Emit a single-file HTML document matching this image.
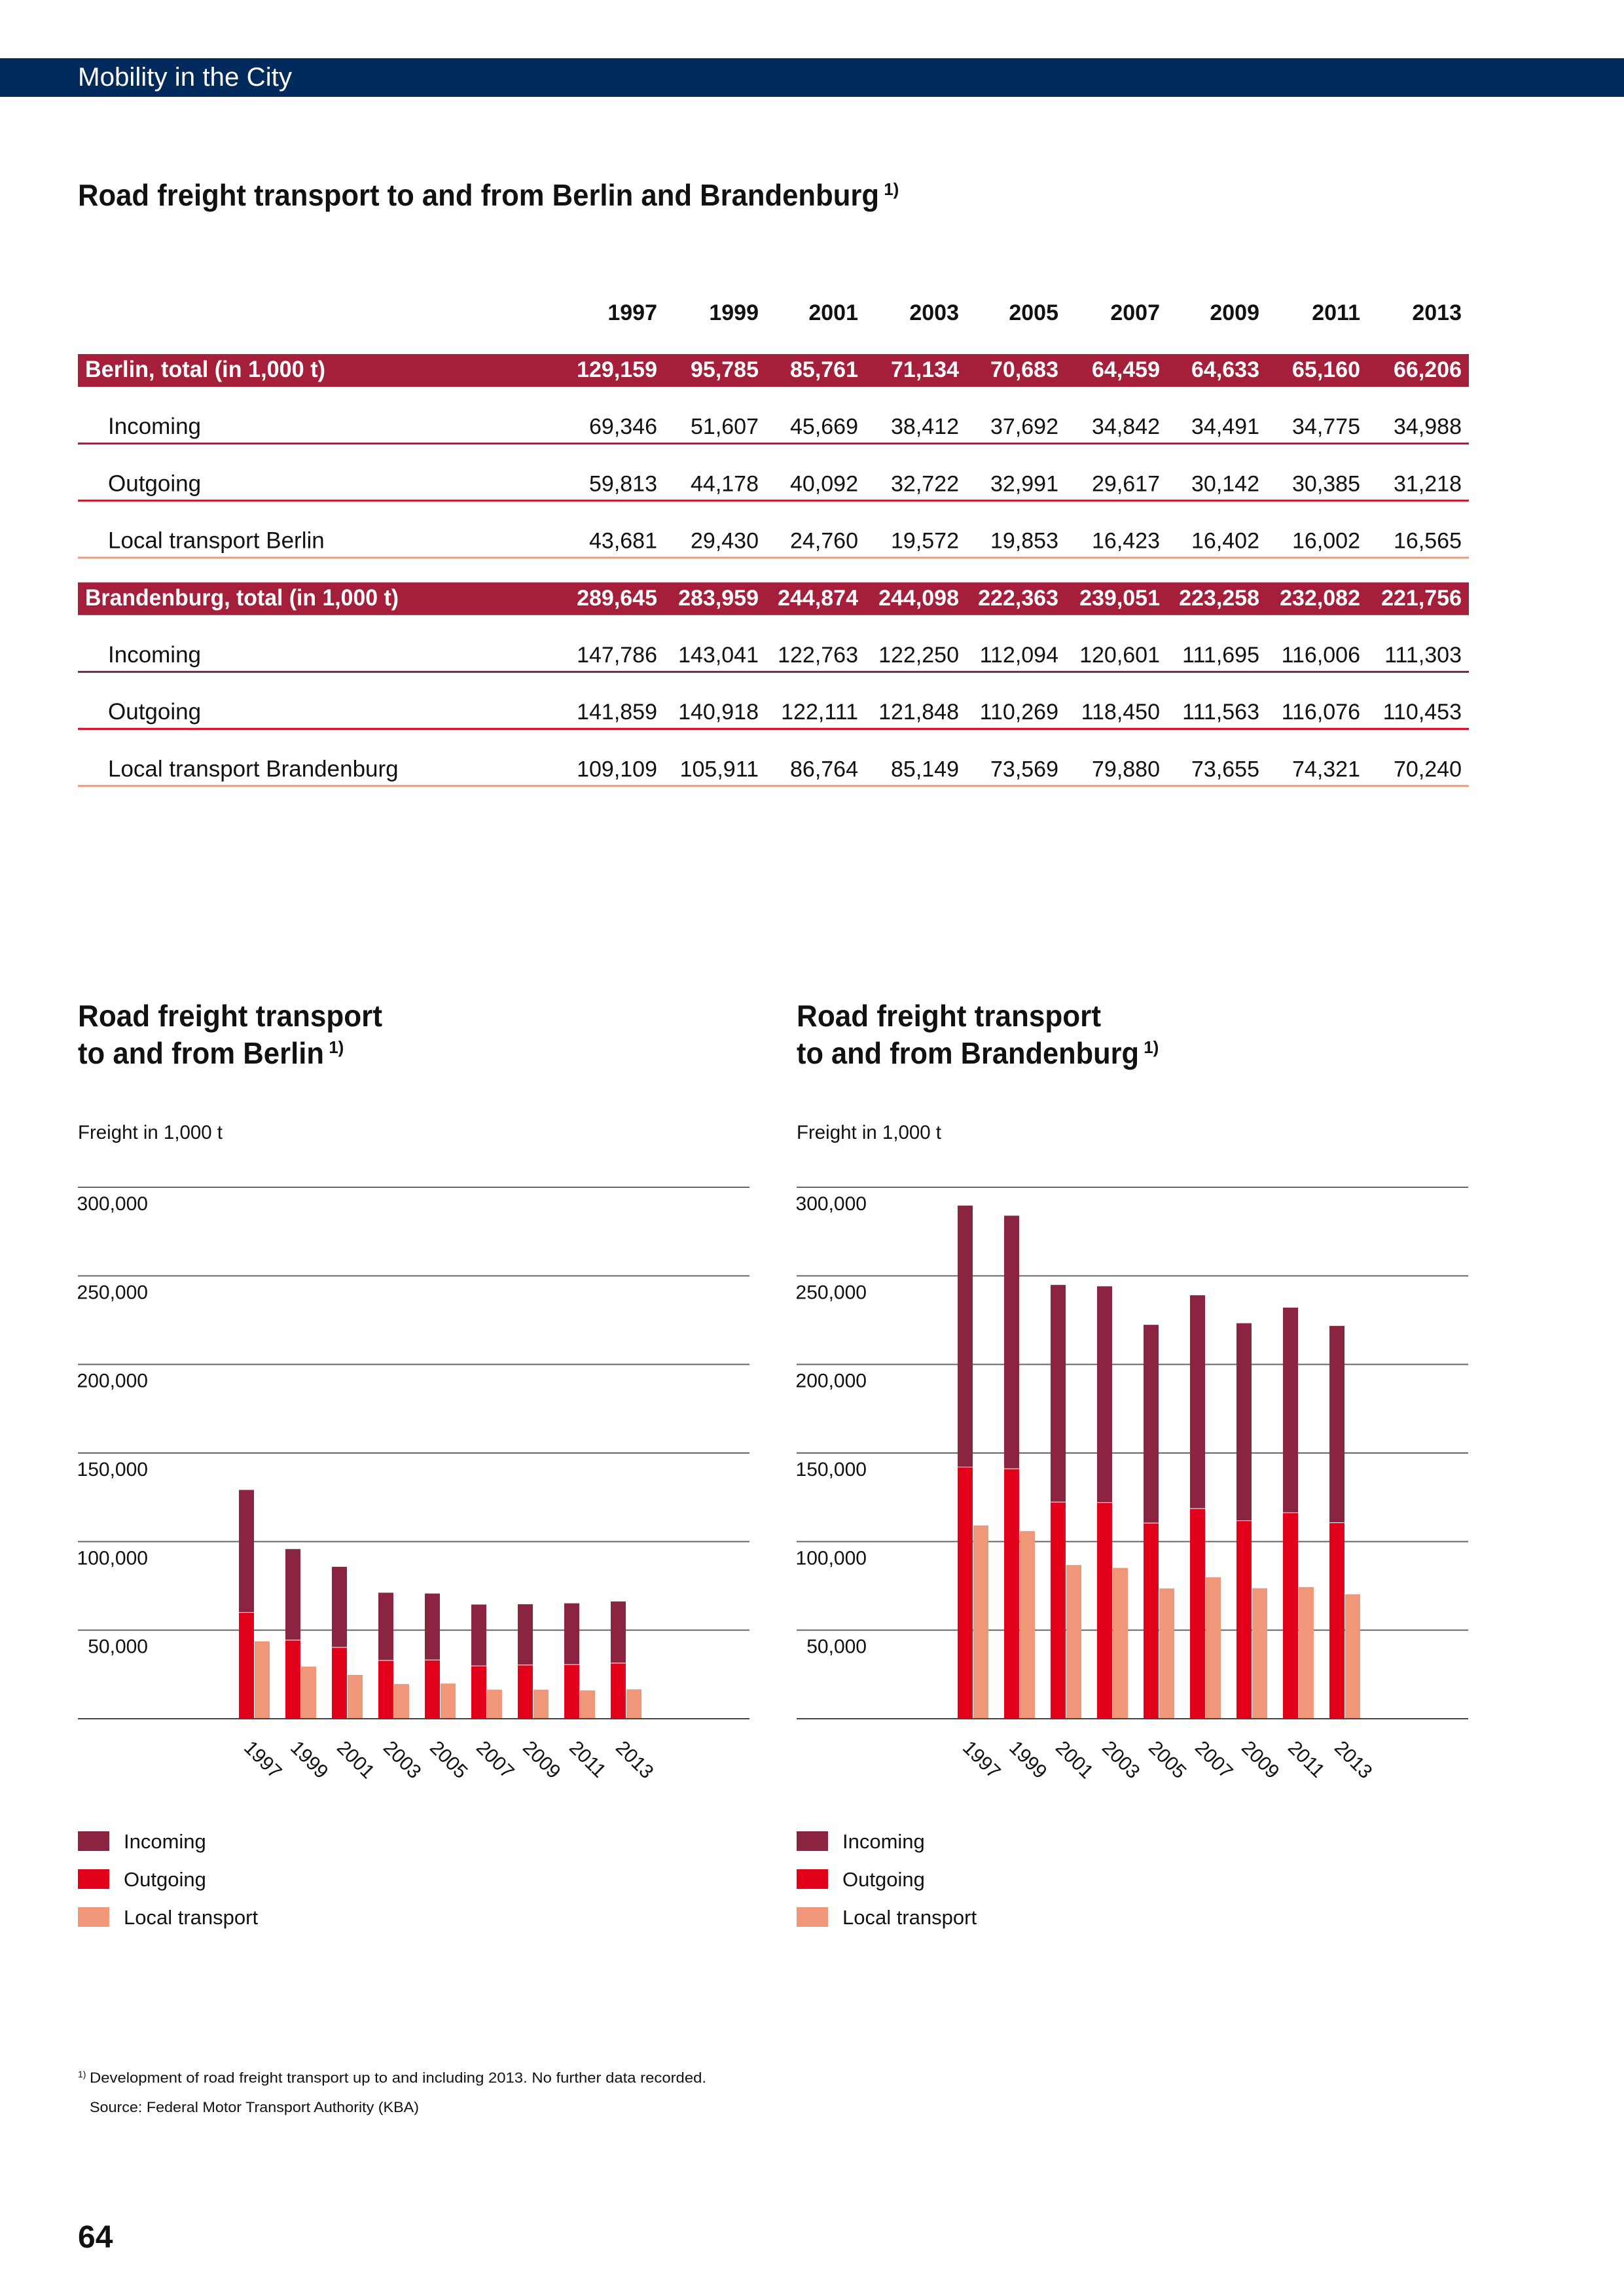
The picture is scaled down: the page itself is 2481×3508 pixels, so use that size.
<!DOCTYPE html>
<html><head><meta charset="utf-8">
<style>
html,body{margin:0;padding:0;background:#fff;}
svg{display:block;font-family:"Liberation Sans Narrow","Liberation Sans",sans-serif;}
</style></head>
<body>
<svg id="page" width="2481" height="3508" viewBox="0 0 2481 3508" xmlns="http://www.w3.org/2000/svg">
<rect x="0" y="89" width="2481" height="59" fill="#002a5c"/>
<text x="119" y="131" font-size="40" fill="#fff" textLength="327" lengthAdjust="spacingAndGlyphs">Mobility in the City</text>
<text x="119" y="314" font-size="46" font-weight="bold" fill="#111"><tspan textLength="1224" lengthAdjust="spacingAndGlyphs">Road freight transport to and from Berlin and Brandenburg</tspan><tspan font-size="26" dy="-16"> 1)</tspan></text>
<g id="table"></g>
<g id="chartL"></g>
<g id="chartR"></g>
<text x="119" y="3182" font-size="22" fill="#111"><tspan font-size="14" dy="-8">1)</tspan><tspan dy="8" x="137" textLength="942" lengthAdjust="spacingAndGlyphs">Development of road freight transport up to and including 2013. No further data recorded.</tspan></text>
<text x="137" y="3227" font-size="22" fill="#111" textLength="503" lengthAdjust="spacingAndGlyphs">Source: Federal Motor Transport Authority (KBA)</text>
<text x="119" y="3434" font-size="48" font-weight="bold" fill="#111">64</text>
</svg>
<script>
const years = ["1997","1999","2001","2003","2005","2007","2009","2011","2013"];
const berlinTotal = [129159,95785,85761,71134,70683,64459,64633,65160,66206];
const berlinIn = [69346,51607,45669,38412,37692,34842,34491,34775,34988];
const berlinOut = [59813,44178,40092,32722,32991,29617,30142,30385,31218];
const berlinLocal = [43681,29430,24760,19572,19853,16423,16402,16002,16565];
const brbTotal = [289645,283959,244874,244098,222363,239051,223258,232082,221756];
const brbIn = [147786,143041,122763,122250,112094,120601,111695,116006,111303];
const brbOut = [141859,140918,122111,121848,110269,118450,111563,116076,110453];
const brbLocal = [109109,105911,86764,85149,73569,79880,73655,74321,70240];
const yTicks = [50000,100000,150000,200000,250000,300000];

const NS="http://www.w3.org/2000/svg";
const C_IN="#8a2440", C_OUT="#e2001a", C_LOC="#f0977a", C_BAND="#a51f3b";
function mk(tag,attrs,parent,txt){const e=document.createElementNS(NS,tag);for(const k in attrs)e.setAttribute(k,attrs[k]);if(txt!==undefined)e.textContent=txt;parent.appendChild(e);return e;}
function fmt(v){return v.toLocaleString("en-US");}

const tbl=document.getElementById("table");
const colR=[1004,1159,1311,1465,1617,1772,1924,2078,2233];
years.forEach((y,i)=>{
  const t=mk("text",{x:colR[i],y:489,"font-size":34,"font-weight":"bold","text-anchor":"end",fill:"#111"},tbl,y);
  
  
});
const rows=[
  {label:"Berlin, total (in 1,000 t)",vals:berlinTotal,band:true,tl:367},
  {label:"Incoming",vals:berlinIn,line:C_IN},
  {label:"Outgoing",vals:berlinOut,line:C_OUT},
  {label:"Local transport Berlin",vals:berlinLocal,line:C_LOC},
  {label:"Brandenburg, total (in 1,000 t)",vals:brbTotal,band:true,tl:479},
  {label:"Incoming",vals:brbIn,line:C_IN},
  {label:"Outgoing",vals:brbOut,line:C_OUT},
  {label:"Local transport Brandenburg",vals:brbLocal,line:C_LOC}
];
rows.forEach((r,ri)=>{
  const cy=564+ri*87.2;
  const g=mk("g",{},tbl);
  
  
  if(r.band){
    mk("rect",{x:119,y:cy-23,width:2125,height:50,fill:C_BAND},g);
  } else {
    mk("rect",{x:119,y:cy+25,width:2125,height:3,fill:r.line},g);
  }
  const col=r.band?"#fff":"#111", fw=r.band?"bold":"normal";
  const la={x:r.band?130:165,y:cy+12,"font-size":35,"font-weight":fw,fill:col};
  if(r.tl){la.textLength=r.tl;la.lengthAdjust="spacingAndGlyphs";}
  mk("text",la,g,r.label);
  r.vals.forEach((v,i)=>mk("text",{x:colR[i],y:cy+12,"font-size":34,"font-weight":fw,"text-anchor":"end",fill:col},g,fmt(v)));
});

function chart(id,ox,title2,t2len,inc,out,loc){
  const g=document.getElementById(id);
  const base=2626, top=1814, maxV=300000;
  const yS=v=>base-(v/maxV)*(base-top);
  const x0=119+ox, w=1026;
  const xS=i=>365+ox+i*71;
  mk("text",{x:x0,y:1568,"font-size":46,"font-weight":"bold",fill:"#111",textLength:465,lengthAdjust:"spacingAndGlyphs"},g,"Road freight transport");
  const t2=mk("text",{x:x0,y:1625,"font-size":46,"font-weight":"bold",fill:"#111"},g);
  mk("tspan",{textLength:t2len,lengthAdjust:"spacingAndGlyphs"},t2,title2);
  mk("tspan",{"font-size":26,dy:-16},t2," 1)");
  mk("text",{x:x0,y:1740,"font-size":30,fill:"#111",textLength:221,lengthAdjust:"spacingAndGlyphs"},g,"Freight in 1,000 t");
  yTicks.forEach(v=>{
    const l=mk("line",{x1:x0,x2:x0+w,y1:yS(v),y2:yS(v),stroke:"#666","stroke-width":2},g);
    
    
    const t=mk("text",{x:x0+107,y:yS(v)+35,"font-size":30,"text-anchor":"end",fill:"#111"},g,fmt(v));
    
    
  });
  inc.forEach((v,i)=>{
    const x=xS(i);
    const ro=mk("rect",{x:x,y:yS(out[i]),width:23,height:base-yS(out[i]),fill:C_OUT},g);
    
    
    const ri=mk("rect",{x:x,y:yS(out[i]+v),width:23,height:yS(out[i])-yS(out[i]+v)-1,fill:C_IN},g);
    
    
    const rl=mk("rect",{x:x+24,y:yS(loc[i]),width:23,height:base-yS(loc[i]),fill:C_LOC},g);
    
    
    const yl=mk("text",{x:0,y:0,"font-size":30,fill:"#111",transform:`translate(${x+6},${2672}) rotate(45)`},g,years[i]);
    
    
  });
  const bl=mk("line",{x1:x0,x2:x0+w,y1:base,y2:base,stroke:"#444","stroke-width":2},g);
  
  
  [["Incoming",C_IN],["Outgoing",C_OUT],["Local transport",C_LOC]].forEach((e,k)=>{
    const lg=mk("g",{},g);
    
    
    mk("rect",{x:x0,y:2798+k*58,width:48,height:30,fill:e[1]},lg);
    mk("text",{x:x0+70,y:2824+k*58,"font-size":31,fill:"#111"},lg,e[0]);
  });
}
chart("chartL",0,"to and from Berlin",376,berlinIn,berlinOut,berlinLocal);
chart("chartR",1098,"to and from Brandenburg",523,brbIn,brbOut,brbLocal);
</script>
</body></html>
